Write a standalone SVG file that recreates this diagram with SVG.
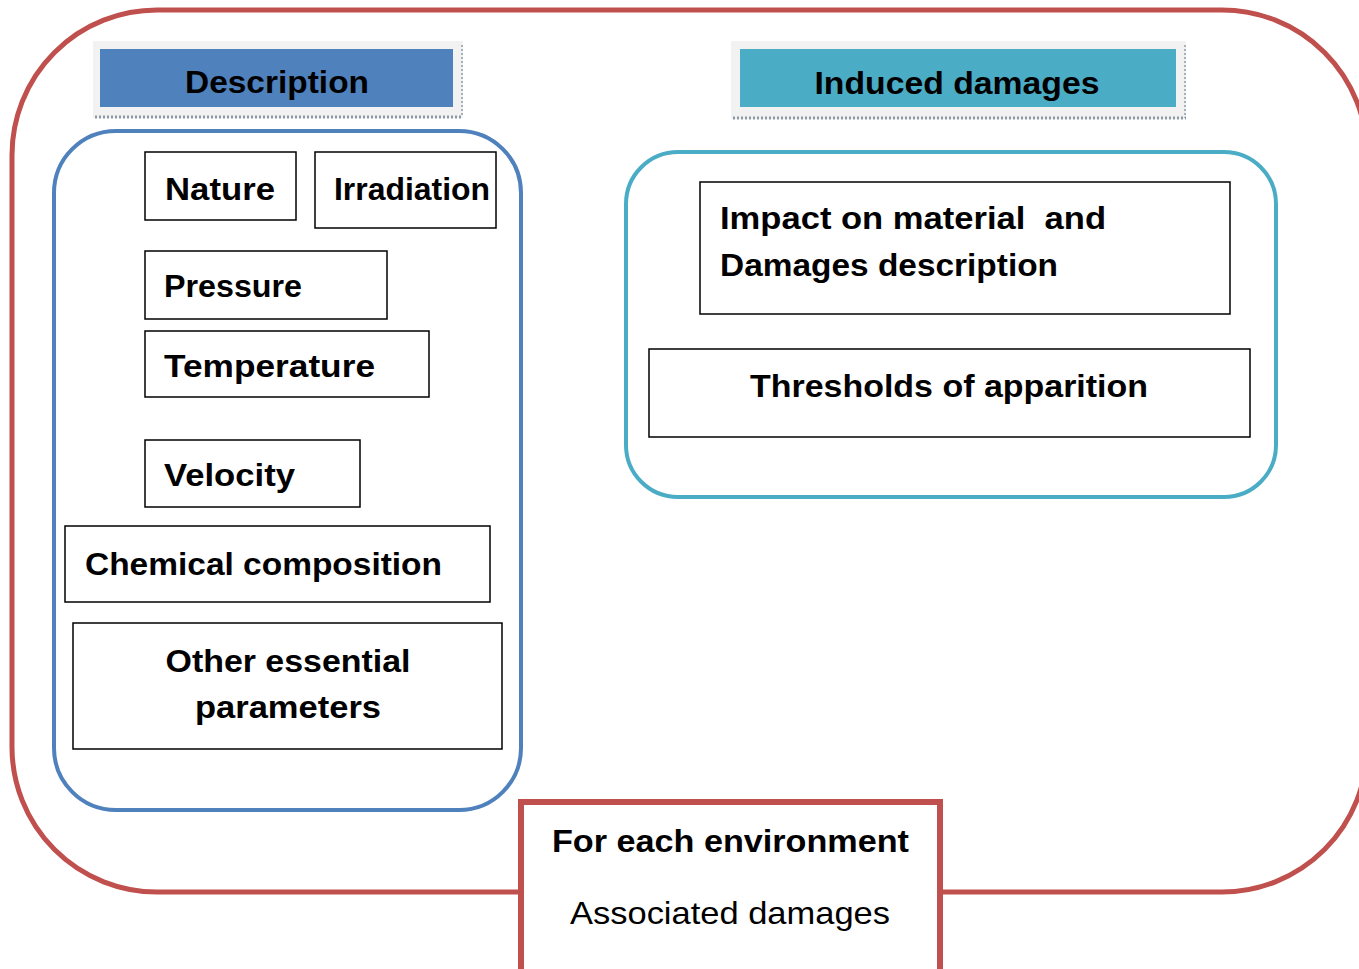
<svg xmlns="http://www.w3.org/2000/svg" width="1359" height="969" viewBox="0 0 1359 969">
<style>
.t{font-family:"Liberation Sans",Arial,sans-serif;font-weight:bold;font-size:32px;fill:#000}
.r{font-weight:normal}
.box{fill:#fff;stroke:#000;stroke-width:1.5}
</style>
<rect width="1359" height="969" fill="#fff"/>
<g id="outer"><rect x="12" y="10" width="1355" height="882" rx="145" ry="145" fill="none" stroke="#c0504d" stroke-width="5"/></g>
<g id="description-header">
<rect x="93" y="41" width="370" height="77" fill="#f2f2f2"/>
<line x1="95" y1="117" x2="463" y2="117" stroke="#8d9aa6" stroke-width="3" stroke-dasharray="2 2"/>
<line x1="462" y1="45" x2="462" y2="117" stroke="#8d9aa6" stroke-width="1.5" stroke-dasharray="2 2"/>
<rect x="100" y="49" width="353" height="58" fill="#4f81bd"/>
<text class="t" x="277" y="93" text-anchor="middle" textLength="184" lengthAdjust="spacingAndGlyphs">Description</text>
</g>
<g id="induced-header">
<rect x="731" y="41" width="455" height="78" fill="#f2f2f2"/>
<line x1="733" y1="118" x2="1186" y2="118" stroke="#8d9aa6" stroke-width="3" stroke-dasharray="2 2"/>
<line x1="1185" y1="45" x2="1185" y2="118" stroke="#8d9aa6" stroke-width="1.5" stroke-dasharray="2 2"/>
<rect x="740" y="49" width="436" height="58" fill="#4bacc6"/>
<text class="t" x="957" y="94" text-anchor="middle" textLength="285" lengthAdjust="spacingAndGlyphs">Induced damages</text>
</g>
<g id="description-group"><rect x="54" y="131" width="467" height="679" rx="62" ry="62" fill="none" stroke="#4f81bd" stroke-width="4"/></g>
<g id="nature"><rect class="box" x="145" y="152" width="151" height="68"/><text class="t" x="165" y="200" textLength="110" lengthAdjust="spacingAndGlyphs">Nature</text></g>
<g id="irradiation"><rect class="box" x="315" y="152" width="181" height="76"/><text class="t" x="334" y="200" textLength="156" lengthAdjust="spacingAndGlyphs">Irradiation</text></g>
<g id="pressure"><rect class="box" x="145" y="251" width="242" height="68"/><text class="t" x="164" y="297" textLength="138" lengthAdjust="spacingAndGlyphs">Pressure</text></g>
<g id="temperature"><rect class="box" x="145" y="331" width="284" height="66"/><text class="t" x="164" y="377" textLength="211" lengthAdjust="spacingAndGlyphs">Temperature</text></g>
<g id="velocity"><rect class="box" x="145" y="440" width="215" height="67"/><text class="t" x="164" y="486" textLength="131" lengthAdjust="spacingAndGlyphs">Velocity</text></g>
<g id="chemical"><rect class="box" x="65" y="526" width="425" height="76"/><text class="t" x="85" y="575" textLength="357" lengthAdjust="spacingAndGlyphs">Chemical composition</text></g>
<g id="other"><rect class="box" x="73" y="623" width="429" height="126"/>
<text class="t" x="288" y="672" text-anchor="middle" textLength="245" lengthAdjust="spacingAndGlyphs">Other essential</text>
<text class="t" x="288" y="718" text-anchor="middle" textLength="186" lengthAdjust="spacingAndGlyphs">parameters</text></g>
<g id="induced-group"><rect x="626" y="152" width="650" height="345" rx="52" ry="52" fill="none" stroke="#4bacc6" stroke-width="4"/></g>
<g id="impact"><rect class="box" x="700" y="182" width="530" height="132"/>
<text class="t" x="720" y="229" textLength="386" lengthAdjust="spacingAndGlyphs" xml:space="preserve">Impact on material  and</text>
<text class="t" x="720" y="276" textLength="338" lengthAdjust="spacingAndGlyphs">Damages description</text></g>
<g id="thresholds"><rect class="box" x="649" y="349" width="601" height="88"/>
<text class="t" x="750" y="397" textLength="398" lengthAdjust="spacingAndGlyphs">Thresholds of apparition</text></g>
<g id="environment"><rect x="521" y="802" width="419" height="170" fill="#fff" stroke="#c0504d" stroke-width="6"/>
<text class="t" x="552" y="852" textLength="357" lengthAdjust="spacingAndGlyphs">For each environment</text>
<text class="t r" x="570" y="924" textLength="320" lengthAdjust="spacingAndGlyphs">Associated damages</text></g>
<g id="connectors"></g>
</svg>
